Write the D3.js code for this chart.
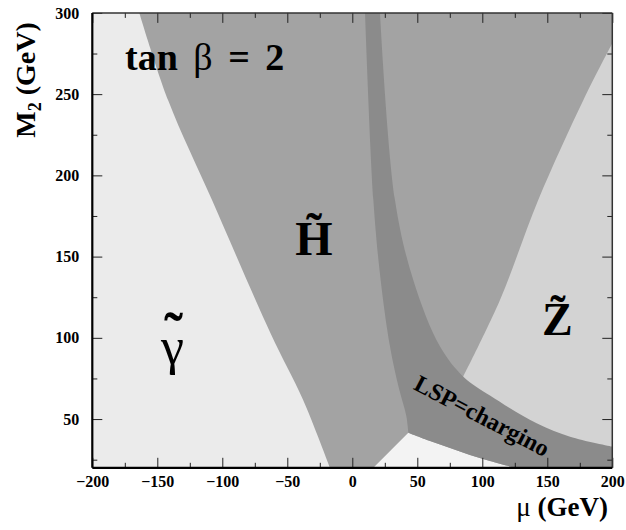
<!DOCTYPE html>
<html>
<head>
<meta charset="utf-8">
<script src="https://cdn.jsdelivr.net/npm/d3@7"></script>
<style>
  html, body { margin: 0; padding: 0; background: #fff; }
  svg { display: block; }
  svg text { font-family: "Liberation Serif", "Times New Roman", serif; }
</style>
</head>
<body>
<svg id="chart" width="626" height="530"></svg>
<script>
// LSP composition in the (mu, M2) plane, tan(beta) = 2.
// Region boundaries as [mu, M2] pairs in GeV.
const photinoEdge = [[-163.8, 300], [-141.5, 246], [-108, 185], [-63, 103], [-38, 62], [-17.2, 20]];
const bandLeft = [[9.8, 300], [16.2, 185], [21.8, 135.6], [29, 94.6], [35.5, 70], [41.5, 52], [43.1, 41.6]];
const bandLower = [[43.1, 41.6], [59.8, 36.5], [75.2, 32.2], [90.5, 27.9], [105.9, 24.2], [125.2, 20]];
const bandUpper = [[21.3, 300], [32.8, 185], [46.9, 135.6], [67.5, 94.6], [85.4, 76.1], [105.9, 64.5], [141.8, 47.4], [167.5, 39.1], [200, 33]];
const zinoEdge = [[200, 281.3], [177.7, 246.3], [143.1, 185], [113.6, 123.3], [85.4, 76.1]];
const pocketLeft = [[16.2, 20], [43.1, 41.6]];

const muTicks = [-200, -150, -100, -50, 0, 50, 100, 150, 200];
const muMinor = [-175, -125, -75, -25, 25, 75, 125, 175];
const m2Ticks = [50, 100, 150, 200, 250, 300];
const m2Minor = [25, 75, 125, 175, 225, 275];

const svg = d3.select("#chart");
const x = d3.scaleLinear().domain([-200, 200]).range([92.3, 612.3]);
const y = d3.scaleLinear().domain([20, 300]).range([467.8, 12.9]);

const smooth = d3.line().x(d => x(d[0])).y(d => y(d[1])).curve(d3.curveCatmullRom.alpha(0.5));
const straight = d3.line().x(d => x(d[0])).y(d => y(d[1]));
const curved = new Set([photinoEdge, bandLeft, bandLower, bandUpper, zinoEdge]);

// Join edges into one closed path; physical boundaries are drawn smooth,
// frame segments straight.
function region(edges) {
  return edges.map((e, i) => {
    const pts = e.rev ? e.pts.slice().reverse() : (e.pts || e);
    const src = e.pts || e;
    const d = (curved.has(src) ? smooth : straight)(pts);
    return i === 0 ? d : "L" + d.slice(1);
  }).join("") + "Z";
}

const colors = {
  photino: "#ebebeb",
  pocket: "#f3f3f3",
  higgsino: "#a3a3a3",
  zino: "#d3d3d3",
  chargino: "#8b8b8b"
};

const plot = svg.append("g");

// photino background
plot.append("rect")
  .attr("x", x(-200)).attr("y", y(300))
  .attr("width", x(200) - x(-200)).attr("height", y(20) - y(300))
  .attr("fill", colors.photino);

// higgsino: everything right of the photino boundary
plot.append("path")
  .attr("d", region([photinoEdge, [[-17.2, 20], [200, 20], [200, 300]]]))
  .attr("fill", colors.higgsino);

// zino region (lower side tucked under the chargino band)
plot.append("path")
  .attr("d", region([zinoEdge, [[85.4, 76.1], [80, 55], [200, 26], [200, 281.3]]]))
  .attr("fill", colors.zino);

// light pocket below the band
plot.append("path")
  .attr("d", region([pocketLeft, bandLower, [[125.2, 20], [16.2, 20]]]))
  .attr("fill", colors.pocket);

// chargino LSP band
plot.append("path")
  .attr("d", region([bandLeft, bandLower, [[125.2, 20], [200, 20]], { pts: bandUpper, rev: true }]))
  .attr("fill", colors.chargino);

// axes with inward ticks on all four sides
function frameAxis(axisFn, scale, major, minor, transform, labels) {
  const gMaj = svg.append("g").attr("transform", transform)
    .call(axisFn(scale).tickValues(major).tickSizeInner(-10).tickSizeOuter(0)
      .tickFormat(labels ? d3.format("d") : ""));
  gMaj.attr("font-family", null);
  gMaj.select(".domain").remove();
  gMaj.selectAll(".tick line").attr("stroke", "#222").attr("stroke-width", 1);
  gMaj.selectAll("text").attr("font-weight", "bold").attr("font-size", 16).attr("fill", "#000");
  const gMin = svg.append("g").attr("transform", transform)
    .call(axisFn(scale).tickValues(minor).tickSizeInner(-5).tickSizeOuter(0).tickFormat(""));
  gMin.select(".domain").remove();
  gMin.selectAll(".tick line").attr("stroke", "#222").attr("stroke-width", 1);
  return gMaj;
}

const bx = frameAxis(d3.axisBottom, x, muTicks, muMinor, `translate(0,${y(20)})`, true);
bx.selectAll("text").attr("y", 8).attr("dy", "0.71em");
frameAxis(d3.axisTop, x, muTicks, muMinor, `translate(0,${y(300)})`, false);
const ly = frameAxis(d3.axisLeft, y, m2Ticks, m2Minor, `translate(${x(-200)},0)`, true);
ly.selectAll("text").attr("x", -13);
frameAxis(d3.axisRight, y, m2Ticks, m2Minor, `translate(${x(200)},0)`, false);

// frame
svg.append("line").attr("x1", x(-200)).attr("x2", x(200)).attr("y1", y(300)).attr("y2", y(300))
  .attr("stroke", "#333").attr("stroke-width", 1.5);
svg.append("line").attr("x1", x(200)).attr("x2", x(200)).attr("y1", y(300)).attr("y2", y(20))
  .attr("stroke", "#333").attr("stroke-width", 1.5);
svg.append("line").attr("x1", x(-200)).attr("x2", x(200)).attr("y1", y(20)).attr("y2", y(20))
  .attr("stroke", "#000").attr("stroke-width", 2.2);
svg.append("line").attr("x1", x(-200)).attr("x2", x(-200)).attr("y1", y(300)).attr("y2", y(20))
  .attr("stroke", "#000").attr("stroke-width", 2.2);

// axis titles
const xt = svg.append("text").attr("x", 608).attr("y", 516).attr("text-anchor", "end")
  .attr("font-size", 27).attr("font-weight", "bold");
xt.append("tspan").attr("font-weight", "normal").text("μ");
xt.append("tspan").text(" (GeV)");

const yt = svg.append("text").attr("transform", "translate(35,80) rotate(-90)")
  .attr("text-anchor", "middle").attr("font-size", 28).attr("font-weight", "bold");
yt.append("tspan").text("M");
yt.append("tspan").attr("font-size", 18).attr("dy", 6).text("2");
yt.append("tspan").attr("dy", -6).text(" (GeV)");

// region labels
const tb = svg.append("text").attr("x", x(-174.8)).attr("y", y(264.9))
  .attr("font-size", 38).attr("font-weight", "bold").attr("word-spacing", 6);
tb.append("tspan").text("tan ");
tb.append("tspan").attr("font-weight", "normal").text("β");
tb.append("tspan").text(" = 2");

function tildeLabel(mu, m2, letter, size, weight) {
  svg.append("text").attr("x", x(mu)).attr("y", y(m2)).attr("text-anchor", "middle")
    .attr("font-size", size).attr("font-weight", weight).text(letter + "\u0303");
}
tildeLabel(-29.5, 151, "H", 48, "bold");
tildeLabel(157.8, 101.8, "Z", 46, "bold");

// photino: gamma with a separate tilde accent above it
const gx = x(-138.3), gy = y(83.9);
svg.append("text").attr("x", gx).attr("y", gy).attr("text-anchor", "middle")
  .attr("font-size", 52).text("γ");
svg.append("text").attr("x", gx + 1).attr("y", gy - 12).attr("text-anchor", "middle")
  .attr("font-size", 56).attr("font-weight", "bold").text("˜");

svg.append("text")
  .attr("transform", `translate(${x(99.8)},${y(51.9)}) rotate(27.5)`)
  .attr("text-anchor", "middle").attr("dominant-baseline", "central")
  .attr("font-size", 24).attr("font-weight", "bold").text("LSP=chargino");
</script>
</body>
</html>
